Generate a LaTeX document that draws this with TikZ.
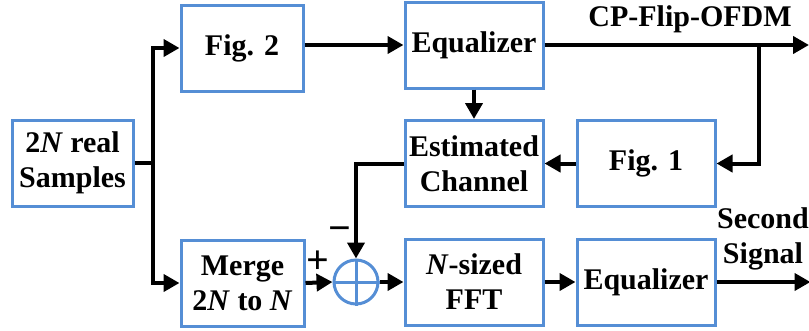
\documentclass[tikz,border=0pt]{standalone}
\usepackage{fontspec}
\setmainfont{Liberation Serif}[BoldFont={Liberation Serif Bold},BoldItalicFont={Liberation Serif Bold Italic}]
\usetikzlibrary{arrows.meta,calc}
\definecolor{boxblue}{RGB}{85,142,213}
\begin{document}
\begin{tikzpicture}[x=1pt,y=-1pt,
  font=\fontsize{30}{35}\selectfont\bfseries,
  blk/.style={draw=boxblue,line width=3pt,fill=white,minimum height=86pt,
    minimum width=#1,align=center,inner sep=0pt},
  blk/.default=138pt,
  link/.style={line width=4pt,draw=black},
  arr/.style={link,-{Triangle[length=16pt,width=17pt]}},
  lbl/.style={align=center,inner sep=0pt}]
\useasboundingbox (0,0) rectangle (809,330);

% blocks
\node[blk=121pt] (src)   at (72.5,163)  {2\textit{N} real\\Samples};
\node[blk=122pt] (fig2)  at (242,48)    {Fig. 2};
\node[blk=123pt] (merge) at (242.5,283) {Merge\\2\textit{N} to \textit{N}};
\node[blk]       (eq1)   at (474,45)    {Equalizer};
\node[blk]       (est)   at (474,163.5) {Estimated\\Channel};
\node[blk]       (fig1)  at (646,163.5) {Fig. 1};
\node[blk]       (fft)   at (474,282)   {\textit{N}-sized\\FFT};
\node[blk]       (eq2)   at (646,282)   {Equalizer};

% summing junction
\node[circle,draw=boxblue,line width=3pt,minimum size=44pt,inner sep=0pt] (sum) at (356,282) {};
\draw[boxblue,line width=3pt] (sum.north) -- (sum.south) (sum.west) -- (sum.east);

% branch points and outputs
\coordinate (split) at (153,163);
\coordinate (tap)   at (759,45);
\coordinate (out1)  at (809,45);
\coordinate (out2)  at ($(eq2.east)+(94,0)$);

% connectors
\draw[link] (src.east) -- (split);
\draw[arr] (split) |- (fig2.west);
\draw[arr] (split) |- (merge.west);
\draw[arr] (fig2.east |- eq1.west) -- (eq1.west);
\draw[arr] (eq1.east) -- (out1);
\draw[arr] (tap) |- (fig1.east);
\draw[arr] (eq1.south) -- (est.north);
\draw[arr] (fig1.west) -- (est.east);
\draw[arr] (est.west) -| (sum.north);
\draw[arr] (merge.east) -- (sum.west);
\draw[arr] (sum.east) -- (fft.west);
\draw[arr] (fft.east) -- (eq2.west);
\draw[arr] (eq2.east) -- (out2);

% labels
\node[lbl] (cplbl) at (690,19) {CP-Flip-OFDM};
\node[lbl] (seclbl) at (763,239) {Second\\Signal};
\node[lbl,font=\fontsize{40}{40}\selectfont\bfseries] (plus) at (318,262) {+};
\node[lbl,font=\fontsize{40}{40}\selectfont\bfseries] (minus) at (340,234) {\textminus};
\end{tikzpicture}
\end{document}
